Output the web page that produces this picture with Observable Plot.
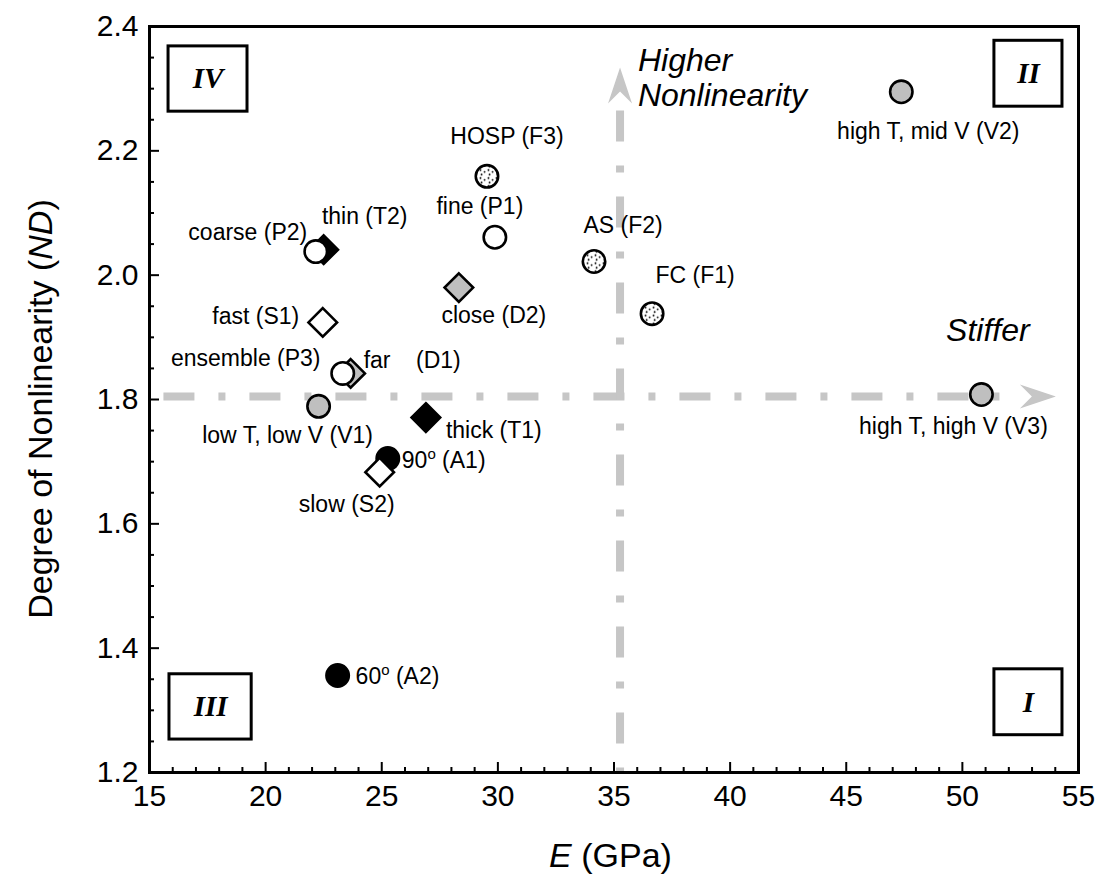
<!DOCTYPE html>
<html>
<head>
<meta charset="utf-8">
<script src="https://cdn.jsdelivr.net/npm/d3@7"></script>
<script src="https://cdn.jsdelivr.net/npm/@observablehq/plot@0.6"></script>
<style>
  html, body { margin: 0; padding: 0; background: #fff; }
  svg { display: block; }
</style>
</head>
<body>
<div id="chart"></div>
<script>
// ---------------- data ----------------
const ids    = ["V2", "V3", "F3", "P1", "F2", "F1", "D2", "T2", "P2", "S1", "D1", "P3", "V1", "T1", "A1", "S2", "A2"];
const labels = ["high T, mid V (V2)", "high T, high V (V3)", "HOSP (F3)", "fine (P1)", "AS (F2)", "FC (F1)",
                "close (D2)", "thin (T2)", "coarse (P2)", "fast (S1)", "far\u00a0\u00a0\u00a0\u00a0(D1)", "ensemble (P3)",
                "low T, low V (V1)", "thick (T1)", "90\u1d52 (A1)", "slow (S2)", "60\u1d52 (A2)"];
const E      = [47.37, 50.82, 29.53, 29.87, 34.14, 36.64, 28.32, 22.50, 22.16, 22.46, 23.66, 23.32, 22.28, 26.90, 25.26, 24.91, 23.10];
const ND     = [2.295, 1.808, 2.159, 2.061, 2.022, 1.938, 1.980, 2.041, 2.038, 1.924, 1.842, 1.842, 1.789, 1.771, 1.705, 1.683, 1.356];
const groups = ["V", "V", "F", "P", "F", "F", "D", "T", "P", "S", "D", "P", "V", "T", "A", "S", "A"];

const xMajor = [15, 20, 25, 30, 35, 40, 45, 50, 55];
const xMinor = [16,17,18,19,21,22,23,24,26,27,28,29,31,32,33,34,36,37,38,39,41,42,43,44,46,47,48,49,51,52,53,54];
const yMajor = [1.2, 1.4, 1.6, 1.8, 2.0, 2.2, 2.4];
const yMinor = [1.25,1.3,1.35,1.45,1.5,1.55,1.65,1.7,1.75,1.85,1.9,1.95,2.05,2.1,2.15,2.25,2.3,2.35];

// quadrant boxes (data units)
const quadNames = ["IV", "II", "III", "I"];
const quadX1 = [15.82, 51.38, 15.86, 51.38];
const quadX2 = [19.22, 54.31, 19.40, 54.31];
const quadY1 = [2.263, 2.271, 1.253, 1.260];
const quadY2 = [2.368, 2.377, 1.358, 1.366];

// guide lines (data units)
const hGuideE  = [15.6, 51.68];
const hGuideND = [1.805, 1.805];
const vGuideE  = [35.26, 35.26];
const vGuideND = [2.265, 1.2];
const headE    = [53.25, 35.26];
const headND   = [1.805, 2.305];
const headAngle = [0, -90];

// ---------------- layout ----------------
const W = 1107, H = 881;
const M = {top: 26, right: 29, bottom: 109, left: 149};
const FONT = "'Liberation Sans', Arial, Helvetica, sans-serif";
const GRAY = "#bfbfbf";
const GUIDE = "#c6c6c6";

// label offsets in pixels relative to the marker
const labelOffset = {
  V2: [27, 40, "middle"], V3: [-28, 32, "middle"], F3: [20, -40, "middle"], P1: [-15, -31, "middle"],
  F2: [29, -36, "middle"], F1: [43, -38, "middle"], D2: [35, 28, "middle"], T2: [41, -33, "middle"],
  P2: [-68, -19, "middle"], S1: [-67, -6, "middle"], D1: [13, -13, "start"], P3: [-97, -15, "middle"],
  V1: [-31, 29, "middle"], T1: [20, 13, "start"], A1: [14, 2, "start"], S2: [-33, 32, "middle"], A2: [18, 1, "start"]
};

const circleSym = {draw(ctx) { const r = 11.2; ctx.moveTo(r, 0); ctx.arc(0, 0, r, 0, 2 * Math.PI); ctx.closePath(); }};
const diamondSym = {draw(ctx) { const h = 14.3; ctx.moveTo(0, -h); ctx.lineTo(h, 0); ctx.lineTo(0, h); ctx.lineTo(-h, 0); ctx.closePath(); }};
const arrowSym = {draw(ctx) { ctx.moveTo(18, 0); ctx.lineTo(-18, -12); ctx.lineTo(-6, 0); ctx.lineTo(-18, 12); ctx.closePath(); }};

const shapeOf = {P: circleSym, V: circleSym, F: circleSym, A: circleSym, S: diamondSym, D: diamondSym, T: diamondSym};
const fillOf  = {P: "white", V: GRAY, F: "url(#stipple)", A: "black", S: "white", D: GRAY, T: "black"};

const xs = Plot.scale({x: {domain: [15, 55], range: [M.left, W - M.right]}});
const ys = Plot.scale({y: {domain: [1.2, 2.4], range: [H - M.bottom, M.top]}});

const points = ids.map((id, i) => ({id, label: labels[i], E: E[i], ND: ND[i], group: groups[i]}));
const labelData = points.map(p => {
  const [dx, dy, anchor] = labelOffset[p.id];
  return {label: p.label, anchor, lx: xs.invert(xs.apply(p.E) + dx), ly: ys.invert(ys.apply(p.ND) + dy)};
});
const quads = quadNames.map((n, i) => ({n, x1: quadX1[i], x2: quadX2[i], y1: quadY1[i], y2: quadY2[i]}));
const hGuide = hGuideE.map((e, i) => ({E: e, ND: hGuideND[i]}));
const vGuide = vGuideE.map((e, i) => ({E: e, ND: vGuideND[i]}));
const heads = headE.map((e, i) => ({E: e, ND: headND[i], a: headAngle[i]}));

const svg = Plot.plot({
  width: W, height: H,
  marginTop: M.top, marginRight: M.right, marginBottom: M.bottom, marginLeft: M.left,
  style: {fontFamily: FONT, color: "black", background: "white"},
  x: {domain: [15, 55]},
  y: {domain: [1.2, 2.4]},
  marks: [
    // axes tick labels
    Plot.axisX({ticks: xMajor, tickSize: 0, tickPadding: 12, fontSize: 30, label: null, tickFormat: d => String(d)}),
    Plot.axisY({ticks: yMajor, tickSize: 0, tickPadding: 11, fontSize: 30, label: null, tickFormat: d3.format(".1f")}),
    // inward ticks
    Plot.axisX({ticks: xMinor, tickSize: -5, strokeWidth: 2, label: null, tickFormat: () => ""}),
    Plot.axisX({ticks: xMajor, tickSize: -10, strokeWidth: 2, label: null, tickFormat: () => ""}),
    Plot.axisY({ticks: yMinor, tickSize: -5, strokeWidth: 2, label: null, tickFormat: () => ""}),
    Plot.axisY({ticks: yMajor, tickSize: -10, strokeWidth: 2, label: null, tickFormat: () => ""}),
    // guide lines
    Plot.line(hGuide, {x: "E", y: "ND", stroke: GUIDE, strokeWidth: 8, strokeDasharray: "31,24,7,24", strokeLinecap: "butt"}),
    Plot.line(vGuide, {x: "E", y: "ND", stroke: GUIDE, strokeWidth: 8, strokeDasharray: "31,24,7,24", strokeLinecap: "butt"}),
    Plot.dot(heads, {x: "E", y: "ND", symbol: arrowSym, rotate: "a", fill: GUIDE, stroke: "none"}),
    // annotation texts
    Plot.text(["Higher\nNonlinearity"], {x: 36.03, y: 2.318, text: d => d, textAnchor: "start", lineHeight: 1.1, fontSize: 32, fontStyle: "italic"}),
    Plot.text(["Stiffer"], {x: 49.3, y: 1.911, text: d => d, textAnchor: "start", fontSize: 32, fontStyle: "italic"}),
    // quadrant boxes
    Plot.rect(quads, {x1: "x1", x2: "x2", y1: "y1", y2: "y2", fill: "white", stroke: "black", strokeWidth: 3}),
    Plot.text(quads, {x: d => (d.x1 + d.x2) / 2, y: d => (d.y1 + d.y2) / 2, text: "n",
      fontFamily: "'Liberation Serif', 'Times New Roman', serif", fontWeight: "bold", fontStyle: "italic", fontSize: 29}),
    // data markers
    Plot.dot(points, {x: "E", y: "ND", symbol: d => shapeOf[d.group], fill: d => fillOf[d.group], stroke: "black", strokeWidth: 2.6}),
    // data labels
    Plot.text(labelData.filter(d => d.anchor === "middle"), {x: "lx", y: "ly", text: "label", textAnchor: "middle", fontSize: 23}),
    Plot.text(labelData.filter(d => d.anchor === "start"), {x: "lx", y: "ly", text: "label", textAnchor: "start", fontSize: 23}),
    // frame
    Plot.frame({stroke: "black", strokeWidth: 3})
  ]
});

const s = d3.select(svg);

// stipple pattern for the fibre markers
s.insert("defs", ":first-child").html(
  '<pattern id="stipple" patternUnits="userSpaceOnUse" width="8" height="8">' +
  '<rect width="8" height="8" fill="white"/>' +
  '<circle cx="1.5" cy="1.8" r="0.95" fill="black"/>' +
  '<circle cx="5.6" cy="3.6" r="0.95" fill="black"/>' +
  '<circle cx="2.6" cy="6.2" r="0.95" fill="black"/>' +
  '</pattern>'
);

// raise the degree "o" as a true superscript
s.selectAll("text").each(function () {
  const t = this.textContent;
  if (this.childElementCount === 0 && t.includes("\u1d52")) {
    const [a, b] = t.split("\u1d52");
    const el = d3.select(this).text(null);
    el.append("tspan").text(a);
    el.append("tspan").attr("font-size", 15).attr("dy", -9).text("o");
    el.append("tspan").attr("dy", 9).text(b);
  }
});

// axis titles with italic symbols
const yt = s.append("text")
  .attr("transform", `translate(${M.left - 109},${(M.top + H - M.bottom) / 2 + 10}) rotate(-90)`)
  .attr("text-anchor", "middle").attr("dy", "0.35em")
  .attr("font-size", 34).attr("font-family", FONT).attr("fill", "black");
yt.append("tspan").text("Degree of Nonlinearity (");
yt.append("tspan").attr("font-style", "italic").text("ND");
yt.append("tspan").text(")");

const xt = s.append("text")
  .attr("x", (M.left + W - M.right) / 2 - 3).attr("y", 855)
  .attr("text-anchor", "middle").attr("dy", "0.35em")
  .attr("font-size", 34).attr("font-family", FONT).attr("fill", "black");
xt.append("tspan").attr("font-style", "italic").text("E");
xt.append("tspan").text(" (GPa)");

document.getElementById("chart").appendChild(svg);
</script>
</body>
</html>
